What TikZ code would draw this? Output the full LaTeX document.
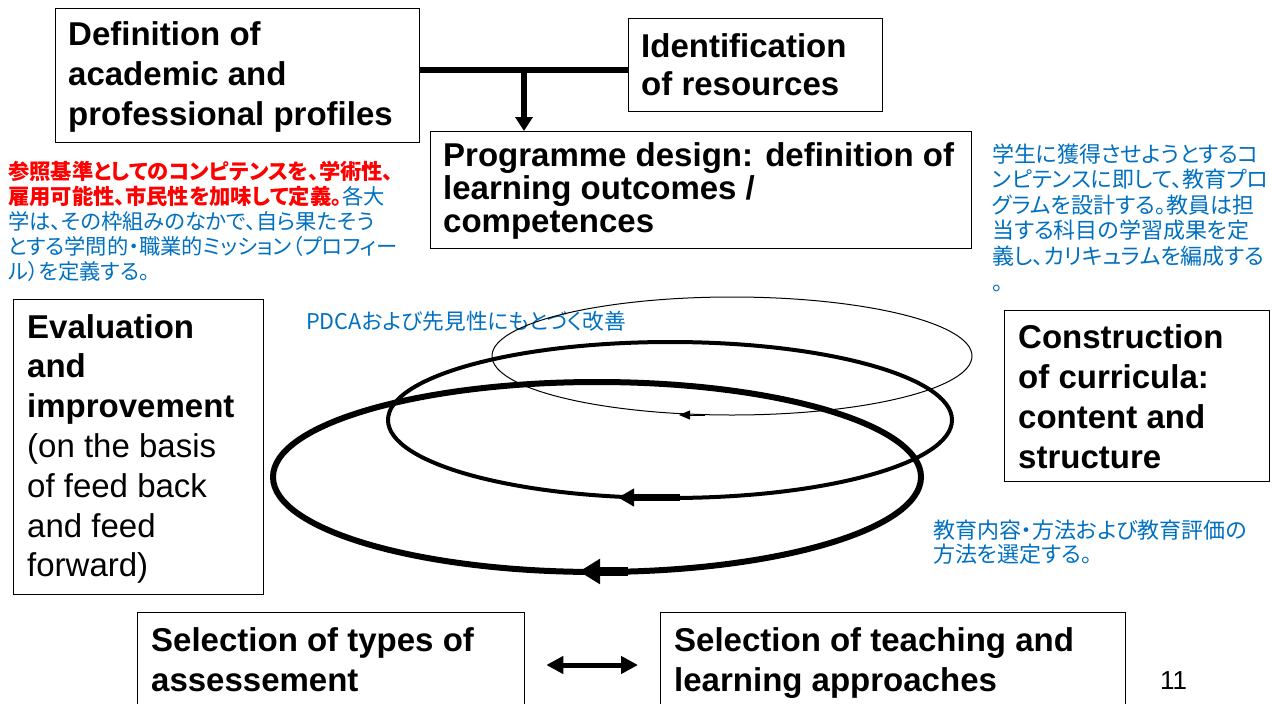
\documentclass[tikz,border=0pt]{standalone}
\usepackage{fontspec}
\setmainfont{Liberation Sans}
\newfontfamily\jp{Noto Sans CJK JP}[RawFeature=+palt]
\usetikzlibrary{arrows.meta}
\definecolor{jpblue}{HTML}{0070C0}
\definecolor{jpred}{HTML}{FF0000}
\begin{document}
\begin{tikzpicture}[x=1pt,y=-1pt,
  box/.style={draw=black, line width=1.3pt, anchor=north west, inner sep=0pt},
  etxt/.style={anchor=base west, align=left, inner sep=0pt, font=\bfseries\fontsize{33}{40}\selectfont},
  jtxt/.style={anchor=base west, align=left, inner sep=0pt, text=jpblue},
  link/.style={line width=6pt},
  dbl/.style={line width=5pt, {Triangle[length=17pt,width=17pt]}-{Triangle[length=17pt,width=17pt]}}
]
\useasboundingbox[fill=white] (0,0) rectangle (1272,704);

% boxes
\node[box, minimum width=364pt, minimum height=134pt] (profiles) at (55,8) {};
\node[box, minimum width=254pt, minimum height=93pt] (resources) at (628,18) {};
\node[box, minimum width=541pt, minimum height=117pt] (design) at (430,131) {};
\node[box, minimum width=250pt, minimum height=295pt] (evaluation) at (13,299) {};
\node[box, minimum width=265pt, minimum height=171pt] (curricula) at (1004,310) {};
\node[box, minimum width=387pt, minimum height=110pt] (assess) at (137,612) {};
\node[box, minimum width=465pt, minimum height=110pt] (teach) at (660,612) {};

% box texts (anchored at the baseline of the last line)
\node[etxt] (profilestext) at (68,125) {Definition of\\academic and\\professional profiles};
\node[etxt, font=\bfseries\fontsize{33}{38}\selectfont] (resourcestext) at (641,95) {Identification\\of resources};
\node[etxt, font=\bfseries\fontsize{33}{33}\selectfont] (designtext) at (443,232) {Programme design: definition of\\learning outcomes /\\competences};
\node[etxt, font=\fontsize{33}{39.8}\selectfont] (evaltext) at (27,576.8) {\textbf{Evaluation}\\\textbf{and}\\\textbf{improvement}\\(on the basis\\of feed back\\and feed\\forward)};
\node[etxt, font=\bfseries\fontsize{33}{39.7}\selectfont] (curtext) at (1018,468) {Construction\\of curricula:\\content and\\structure};
\node[etxt] (assesstext) at (151,691) {Selection of types of\\assessement};
\node[etxt] (teachtext) at (674,691) {Selection of teaching and\\learning approaches};

% page number
\node[anchor=base west, inner sep=0pt, font=\fontsize{26}{30}\selectfont] (pagenum) at (1160,689) {11};

% Japanese notes
\node[jtxt, font=\jp\fontsize{21.3}{25}\selectfont] (leftnote) at (8,279.5)
 {{\color{jpred}\bfseries 参照基準としてのコンピテンスを、学術性、}\\
  {\color{jpred}\bfseries 雇用可能性、市民性を加味して定義。}各大\\
  学は、その枠組みのなかで、自ら果たそう\\
  とする学問的・職業的ミッション（プロフィー\\
  ル）を定義する。};
\node[jtxt, font=\jp\fontsize{22}{25.6}\selectfont] (rightnote) at (992,290)
 {学生に獲得させようとするコ\\ンピテンスに即して、教育プロ\\グラムを設計する。教員は担\\当する科目の学習成果を定\\義し、カリキュラムを編成する\\。};
\node[jtxt, font=\jp\fontsize{22}{24}\selectfont] (methodnote) at (933,562)
 {教育内容・方法および教育評価の\\方法を選定する。};
\node[jtxt, font=\jp\fontsize{21.7}{24}\selectfont] (pdcanote) at (306,329)
 {PDCAおよび先見性にもとづく改善};

% connectors
\coordinate (junction) at (524,70);
\draw[link] (profiles.east |- junction) -- (resources.west |- junction);
\draw[line width=6pt, -{Triangle[length=14pt,width=17pt]}] (junction) -- (junction |- design.north);
\coordinate (midrow) at (0,665);
\draw[dbl, shorten <=21pt, shorten >=22pt] (assess.east |- midrow) -- (teach.west |- midrow);

% spiral of improvement (ellipses)
\draw[line width=1pt] (732,356) ellipse [x radius=240, y radius=59];
\draw[line width=1pt, -{Triangle[length=11pt,width=9pt]}] (705,415) -- (679,415);
\draw[line width=4pt] (670,420) ellipse [x radius=282, y radius=78];
\draw[line width=7pt, -{Triangle[length=16pt,width=17pt]}] (680,497.5) -- (618,497.5);
\draw[line width=6pt] (597,477) ellipse [x radius=324, y radius=95];
\draw[line width=9pt, -{Triangle[length=21pt,width=24pt]}] (628,571.5) -- (579,571.5);
\end{tikzpicture}
\end{document}
